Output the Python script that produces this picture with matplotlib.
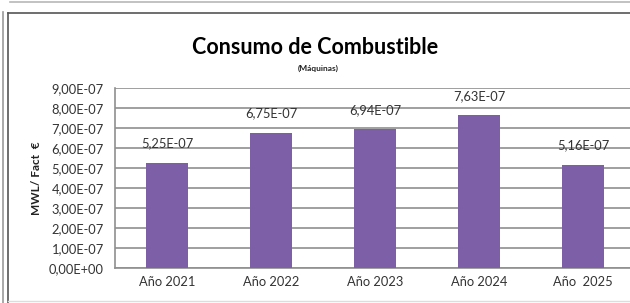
import matplotlib
matplotlib.use('Agg')
import matplotlib.pyplot as plt
from matplotlib.lines import Line2D
import numpy as np

# ─── Datos ────────────────────────────────────────────────────────────────────
years   = ['Año 2021', 'Año 2022', 'Año 2023', 'Año 2024', 'Año  2025']
consumo = [5.25e-07, 6.75e-07, 6.94e-07, 7.63e-07, 5.16e-07]
labels  = ['5,25E-07', '6,75E-07', '6,94E-07', '7,63E-07', '5,16E-07']
yticks  = [i * 1e-07 for i in range(10)]
ytick_labels = ['0,00E+00', '1,00E-07', '2,00E-07', '3,00E-07', '4,00E-07',
                '5,00E-07', '6,00E-07', '7,00E-07', '8,00E-07', '9,00E-07']

BAR_COLOR  = '#7c5fa6'
GRID_COLOR = '#8f8f8f'
TEXT_COLOR = '#333333'

plt.rcParams['font.family'] = ['Lato', 'DejaVu Sans']

W, H = 630, 303
fig = plt.figure(figsize=(W / 100, H / 100), dpi=100)
fig.patch.set_facecolor('white')

# área del gráfico: x 115..635 (recortada a la derecha), y 88..268
ax = fig.add_axes([115 / W, 1 - 268 / H, 520 / W, 180 / H])
x = np.arange(len(years))
ax.bar(x, consumo, width=0.4, color=BAR_COLOR, zorder=3)
ax.set_xlim(-0.5, len(years) - 0.5)
ax.set_ylim(0, 9e-07)
ax.set_yticks(yticks)
ax.set_yticklabels(ytick_labels, fontsize=9.3, color=TEXT_COLOR)
ax.set_xticks(x)
ax.set_xticklabels(years, fontsize=9.3, color=TEXT_COLOR)
ax.tick_params(axis='both', length=0, pad=6)
ax.tick_params(axis='y', pad=8)
ax.grid(axis='y', color=GRID_COLOR, linewidth=1.2, zorder=1)
for s in ['top', 'right']:
    ax.spines[s].set_visible(False)
for s in ['left', 'bottom']:
    ax.spines[s].set_color(GRID_COLOR)
    ax.spines[s].set_linewidth(1.2)

for xi, v, lab in zip(x, consumo, labels):
    ax.annotate(lab, (xi, v), xytext=(0, 14), textcoords='offset points',
                ha='center', va='center', fontsize=9.3, color=TEXT_COLOR, zorder=4)

ax.set_ylabel('MWL/ Fact  €', fontsize=8.5, fontweight='bold', color='#222222')
ax.yaxis.set_label_coords(-0.14, 0.5)

# títulos
fig.text(315 / W, 1 - 47 / H, 'Consumo de Combustible', ha='center', va='center',
         fontsize=15.5, fontweight='bold', color='black')
fig.text(318 / W, 1 - 68 / H, '(Máquinas)', ha='center', va='center',
         fontsize=6, fontweight='bold', color='#222222')

# marcos
def fline(x0, y0, x1, y1, c, lw):
    fig.add_artist(Line2D([x0 / W, x1 / W], [1 - y0 / H, 1 - y1 / H],
                          color=c, linewidth=lw))

fline(10, 1.5, 630, 1.5, '#b8b8b8', 1.2)
fline(3, 12, 3, 303, '#9a9a9a', 1.2)
fline(7.5, 12.5, 630, 12.5, '#555555', 1.2)
fline(7.5, 12.5, 7.5, 303, '#555555', 1.2)
fline(7.5, 301, 630, 301, '#dddddd', 1.0)

fig.savefig('out.png', dpi=100, facecolor='white')
